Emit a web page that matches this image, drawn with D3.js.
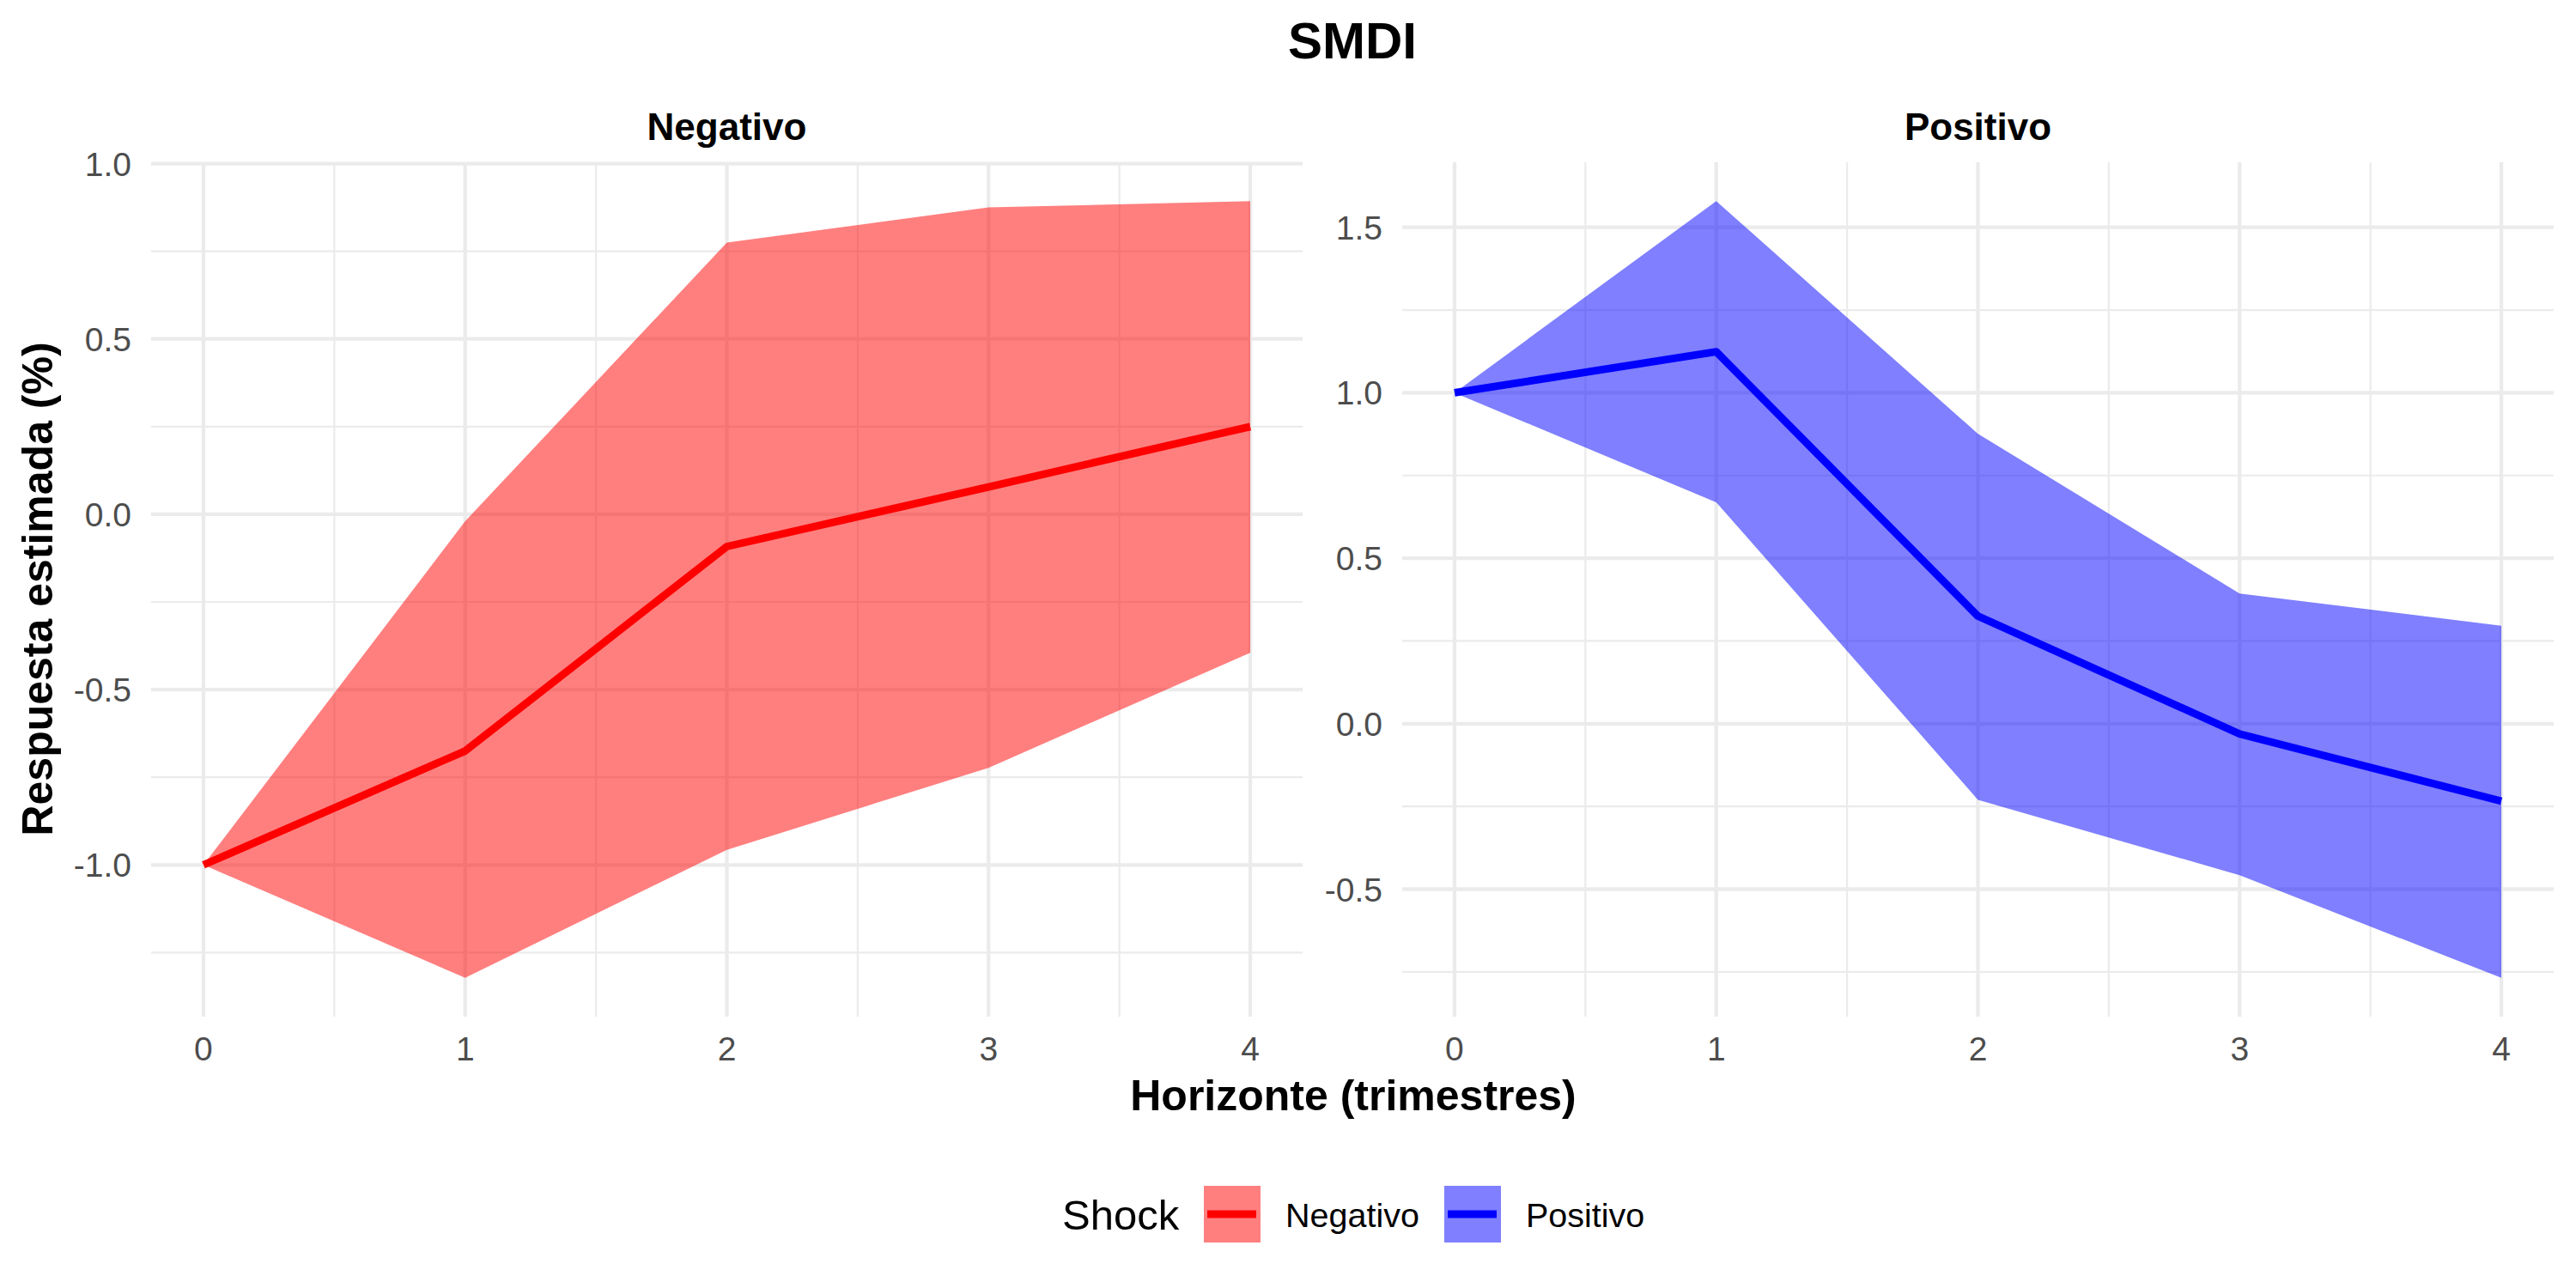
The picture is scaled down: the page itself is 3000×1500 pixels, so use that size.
<!DOCTYPE html>
<html>
<head>
<meta charset="utf-8">
<script src="https://cdn.jsdelivr.net/npm/d3@7"></script>
<style>
  html, body { margin: 0; padding: 0; background: #fff; }
  svg { display: block; font-family: "Liberation Sans", Arial, Helvetica, sans-serif; }
</style>
</head>
<body>
<svg id="chart" width="3000" height="1500"></svg>
<script>
// ---- Data ----
const horizon = [0, 1, 2, 3, 4];
const panels = ["Negativo", "Positivo"];
const negMean  = [-1.0, -0.675, -0.092, 0.078, 0.250];
const negLower = [-1.0, -1.322, -0.957, -0.723, -0.395];
const negUpper = [-1.0, -0.020, 0.775, 0.875, 0.893];
const posMean  = [1.0, 1.124, 0.325, -0.031, -0.234];
const posLower = [1.0, 0.669, -0.230, -0.458, -0.768];
const posUpper = [1.0, 1.579, 0.876, 0.393, 0.296];
const xTicks = [0, 1, 2, 3, 4];
const negYTicks = [-1.0, -0.5, 0.0, 0.5, 1.0];
const posYTicks = [-0.5, 0.0, 0.5, 1.0, 1.5];
const titleText = "SMDI";
const xTitle = "Horizonte (trimestres)";
const yTitle = "Respuesta estimada (%)";
const legendTitle = "Shock";

const lineColors = { Negativo: "#FF0000", Positivo: "#0000FF" };
const fillColors = { Negativo: "rgba(255,0,0,0.5)", Positivo: "rgba(0,0,255,0.5)" };

const svg = d3.select("#chart");
const gridColor = "#EBEBEB";
const tickColor = "#4D4D4D";

const panelTop = 189, panelBottom = 1184;
const panelDefs = [
  { name: "Negativo", x0: 176, x1: 1517, mean: negMean, lo: negLower, hi: negUpper, ticks: negYTicks },
  { name: "Positivo", x0: 1633, x1: 2974, mean: posMean, lo: posLower, hi: posUpper, ticks: posYTicks }
];

panelDefs.forEach(p => {
  const ymin = d3.min(p.lo), ymax = d3.max(p.hi);
  const pad = (ymax - ymin) * 0.05;
  const x = d3.scaleLinear().domain([-0.2, 4.2]).range([p.x0, p.x1]);
  const y = d3.scaleLinear().domain([ymin - pad, ymax + pad]).range([panelBottom, panelTop]);
  const g = svg.append("g");

  // minor grid
  const yMinor = [];
  for (let i = 0; i < p.ticks.length + 1; i++) {
    const v = p.ticks[0] - 0.25 + i * 0.5;
    if (v >= y.domain()[0] && v <= y.domain()[1]) yMinor.push(v);
  }
  const xMinor = [0.5, 1.5, 2.5, 3.5];
  g.selectAll(".ymin").data(yMinor).enter().append("line")
    .attr("x1", p.x0).attr("x2", p.x1).attr("y1", d => y(d)).attr("y2", d => y(d))
    .attr("stroke", gridColor).attr("stroke-width", 2.2);
  g.selectAll(".xmin").data(xMinor).enter().append("line")
    .attr("x1", d => x(d)).attr("x2", d => x(d)).attr("y1", panelTop).attr("y2", panelBottom)
    .attr("stroke", gridColor).attr("stroke-width", 2.2);
  // major grid
  g.selectAll(".ymaj").data(p.ticks).enter().append("line")
    .attr("x1", p.x0).attr("x2", p.x1).attr("y1", d => y(d)).attr("y2", d => y(d))
    .attr("stroke", gridColor).attr("stroke-width", 4.3);
  g.selectAll(".xmaj").data(xTicks).enter().append("line")
    .attr("x1", d => x(d)).attr("x2", d => x(d)).attr("y1", panelTop).attr("y2", panelBottom)
    .attr("stroke", gridColor).attr("stroke-width", 4.3);

  // ribbon
  const idx = d3.range(horizon.length);
  const area = d3.area().x(i => x(horizon[i])).y0(i => y(p.lo[i])).y1(i => y(p.hi[i]));
  g.append("path").datum(idx).attr("d", area).attr("fill", fillColors[p.name]);
  // line
  const line = d3.line().x(i => x(horizon[i])).y(i => y(p.mean[i]));
  g.append("path").datum(idx).attr("d", line).attr("fill", "none")
    .attr("stroke", lineColors[p.name]).attr("stroke-width", 8.9).attr("stroke-linejoin", "round");

  // y tick labels
  g.selectAll(".ylab").data(p.ticks).enter().append("text")
    .attr("x", p.x0 - 23).attr("y", d => y(d)).attr("dy", "0.36em")
    .attr("text-anchor", "end").attr("font-size", 39).attr("fill", tickColor)
    .text(d => d3.format(".1f")(d).replace("−", "-"));
  // x tick labels
  g.selectAll(".xlab").data(xTicks).enter().append("text")
    .attr("x", d => x(d)).attr("y", 1235)
    .attr("text-anchor", "middle").attr("font-size", 39).attr("fill", tickColor)
    .text(d => d);
  // strip label
  g.append("text").attr("x", (p.x0 + p.x1) / 2).attr("y", 163)
    .attr("text-anchor", "middle").attr("font-size", 44).attr("font-weight", "bold")
    .attr("fill", "#000").text(p.name);
});

// title
svg.append("text").attr("x", 1575).attr("y", 68).attr("text-anchor", "middle")
  .attr("font-size", 60).attr("font-weight", "bold").attr("fill", "#000").text(titleText);
// axis titles
svg.append("text").attr("x", 1576).attr("y", 1293).attr("text-anchor", "middle")
  .attr("font-size", 50).attr("font-weight", "bold").attr("fill", "#000").text(xTitle);
svg.append("text").attr("transform", "translate(61,686) rotate(-90)").attr("text-anchor", "middle")
  .attr("font-size", 50).attr("font-weight", "bold").attr("fill", "#000").text(yTitle);

// legend
const lg = svg.append("g");
lg.append("text").attr("x", 1237).attr("y", 1432).attr("font-size", 49).attr("fill", "#000").text(legendTitle);
const keyX = [1402, 1682];
const textX = [1497, 1777];
panels.forEach((name, i) => {
  lg.append("rect").attr("x", keyX[i]).attr("y", 1381).attr("width", 66).attr("height", 66)
    .attr("fill", fillColors[name]);
  lg.append("line").attr("x1", keyX[i] + 4).attr("x2", keyX[i] + 61).attr("y1", 1414).attr("y2", 1414)
    .attr("stroke", lineColors[name]).attr("stroke-width", 9);
  lg.append("text").attr("x", textX[i]).attr("y", 1429).attr("font-size", 39.5).attr("fill", "#000").text(name);
});
</script>
</body>
</html>
